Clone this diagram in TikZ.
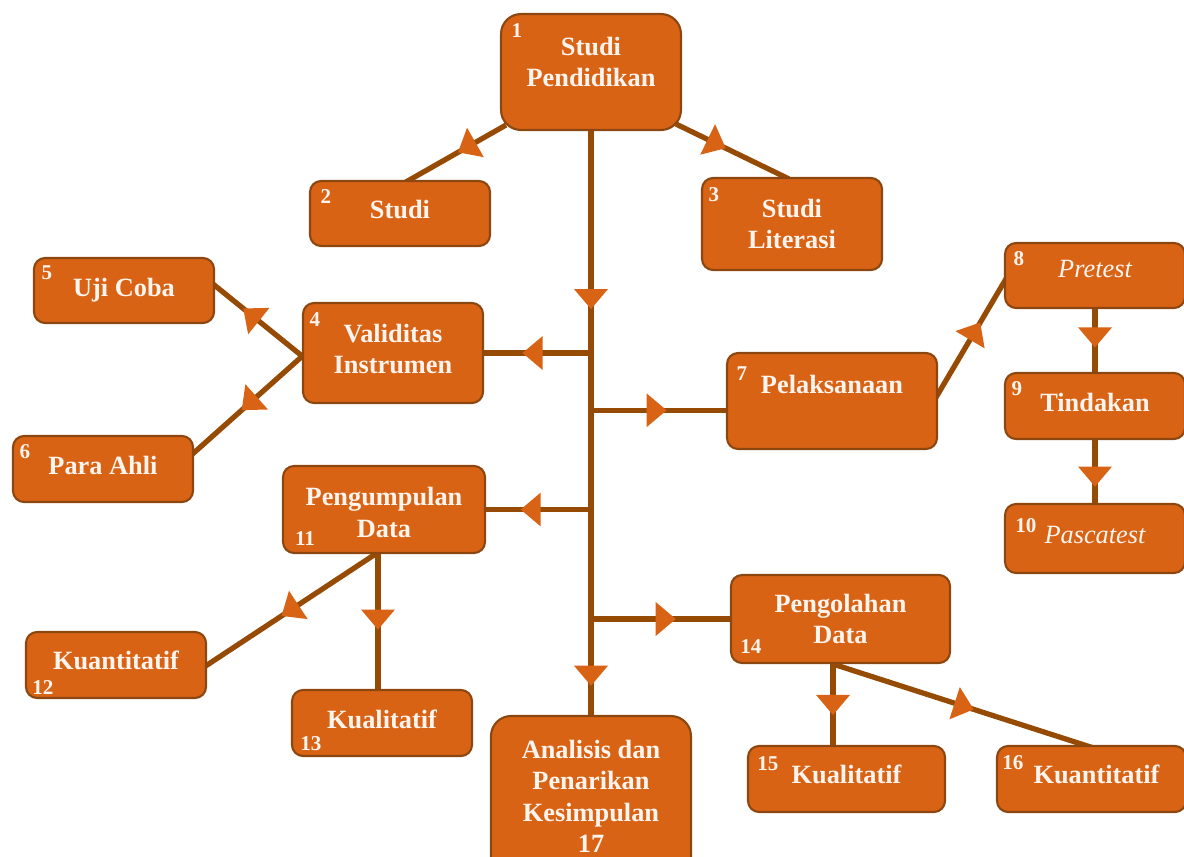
\documentclass[tikz,border=0pt]{standalone}
\usepackage{fontspec}
\setmainfont{Liberation Serif}
\usetikzlibrary{arrows.meta,decorations.markings}
\definecolor{myorange}{RGB}{217,99,21}
\definecolor{mybrown}{RGB}{140,70,15}
\definecolor{myline}{RGB}{150,75,5}
\definecolor{mytext}{RGB}{255,244,238}
\pgfdeclarelayer{bg}
\pgfsetlayers{bg,main}

\begin{document}
\begin{tikzpicture}[x=0.02cm,y=-0.02cm,font=\bfseries\fontsize{15}{18}\selectfont,
  stage/.style={draw=mybrown,line width=1.2pt,fill=myorange,text=mytext,
    rounded corners=0.22cm,align=center,minimum width=3.6cm,minimum height=1.3cm,inner sep=2pt},
  num/.style={text=mytext,font=\bfseries\fontsize{12}{12}\selectfont,inner sep=0pt},
  link/.style={draw=myline,line width=3pt},
  arrowat/.style={postaction={decorate,decoration={markings,
    mark=at position #1 with {\arrow{Triangle[length=11.4pt,width=19.3pt,line width=0pt,color=myorange]}}}}}]

  \useasboundingbox (0,0) rectangle (1184,856);

  \node[stage,minimum height=2.32cm,rounded corners=0.4cm,text depth=11.4pt] (b1) at (591,72) {Studi\\Pendidikan};
  \node[stage,text depth=5pt] (b2) at (400,213.5) {Studi};
  \node[stage,minimum height=1.84cm] (b3) at (792,224) {Studi\\Literasi};
  \node[stage,minimum height=2cm,text depth=4.6pt] (b4) at (393,353) {Validitas\\Instrumen};
  \node[stage,text depth=3.5pt] (b5) at (124,290.5) {Uji Coba};
  \node[stage,minimum height=1.32cm,text depth=4.6pt] (b6) at (103,469) {Para Ahli};
  \node[stage,minimum width=4.2cm,minimum height=1.92cm,text depth=19pt] (b7) at (832,401) {Pelaksanaan};
  \node[stage,text depth=7.4pt] (b8) at (1095,275.5) {\mdseries\itshape Pretest};
  \node[stage,minimum height=1.32cm,text depth=4.6pt] (b9) at (1095,406) {Tindakan};
  \node[stage,minimum height=1.38cm,text depth=4pt] (b10) at (1095,538.5) {\mdseries\itshape Pascatest};
  \node[stage,minimum width=4.04cm,minimum height=1.74cm,text height=31.6pt] (b11) at (384,509.5) {Pengumpulan\\Data};
  \node[stage,minimum height=1.32cm,text depth=5.7pt] (b12) at (116,665) {Kuantitatif};
  \node[stage,minimum height=1.32cm,text depth=4.6pt] (b13) at (382,723) {Kualitatif};
  \node[stage,minimum width=4.38cm,minimum height=1.76cm] (b14) at (840.5,619) {Pengolahan\\Data};
  \node[stage,minimum width=3.94cm,minimum height=1.32cm,text depth=5.7pt] (b15) at (846.5,779) {Kualitatif};
  \node[stage,minimum width=3.78cm,minimum height=1.32cm,text depth=5.7pt] (b16) at (1091.5,779) {\hspace{0.2cm}Kuantitatif};
  \node[stage,minimum width=4cm,minimum height=3.3cm,rounded corners=0.4cm,text depth=2.5pt] (b17) at (591,798.5) {Analisis dan\\Penarikan\\Kesimpulan\\17};

  % numbers in the corners
  \node[num] (n1) at ([shift={(17,18)}]b1.north west) {1};
  \node[num] (n2) at ([shift={(17,17)}]b2.north west) {2};
  \node[num] (n3) at ([shift={(13,18)}]b3.north west) {3};
  \node[num] (n4) at ([shift={(13,18)}]b4.north west) {4};
  \node[num] (n5) at ([shift={(14,16)}]b5.north west) {5};
  \node[num] (n6) at ([shift={(13,17)}]b6.north west) {6};
  \node[num] (n7) at ([shift={(16,22)}]b7.north west) {7};
  \node[num] (n8) at ([shift={(15,17)}]b8.north west) {8};
  \node[num] (n9) at ([shift={(13,17)}]b9.north west) {9};
  \node[num] (n10) at ([shift={(22,23)}]b10.north west) {10};
  \node[num] (n11) at ([shift={(23,-16)}]b11.south west) {11};
  \node[num] (n12) at ([shift={(18,-12)}]b12.south west) {12};
  \node[num] (n13) at ([shift={(20,-13)}]b13.south west) {13};
  \node[num] (n14) at ([shift={(21,-18)}]b14.south west) {14};
  \node[num] (n15) at ([shift={(21,19)}]b15.north west) {15};
  \node[num] (n16) at ([shift={(17,18)}]b16.north west) {16};

  \coordinate (k11) at ([xshift=-0.12cm]b11.south);
  \coordinate (k14) at ([xshift=-0.15cm]b14.south);

  \begin{pgfonlayer}{bg}
    % main line
    \draw[link,arrowat=0.305,arrowat=0.95] (b1.south) -- (b17.north);
    \draw[link,arrowat=0.48] ([shift={(6,-6)}]b1.south west) -- ([shift={(6,2)}]b2.north);
    \draw[link,arrowat=0.44] ([shift={(-6,-7)}]b1.south east) -- ([shift={(-3,2)}]b3.north);
    \draw[link,arrowat=0.64] (b4.east -| b1.south) -- (b4.east);
    \draw[link,arrowat=0.56] (b7.185 -| b1.south) -- (b7.185);
    \draw[link,arrowat=0.67] (b11.east -| b1.south) -- (b11.east);
    \draw[link,arrowat=0.61] (b14.west -| b1.south) -- (b14.west);

    % left side
    \draw[link,arrowat=0.645] ([shift={(5,7)}]b4.west) -- ([shift={(-7,-10.5)}]b5.east);
    \draw[link,arrowat=0.55] ([shift={(5,-1)}]b4.west) -- ([shift={(-6,-11)}]b6.east);
    \draw[link,arrowat=0.55] ([shift={(-4,-3)}]b11.south) -- ([shift={(-6,4)}]b12.east);
    \draw[link,arrowat=0.56] (k11) -- (k11 |- b13.north);

    % right side
    \draw[link,arrowat=0.62] ([shift={(-3,-2)}]b7.east) -- ([shift={(4,0)}]b8.west);
    \draw[link,arrowat=0.61] (b8.south) -- (b9.north);
    \draw[link,arrowat=0.74] (b9.south) -- (b10.north);
    \draw[link,arrowat=0.63] (k14) -- (k14 |- b15.north);
    \draw[link,arrowat=0.54] (k14) -- ([shift={(2,3)}]b16.north);
  \end{pgfonlayer}
\end{tikzpicture}
\end{document}
